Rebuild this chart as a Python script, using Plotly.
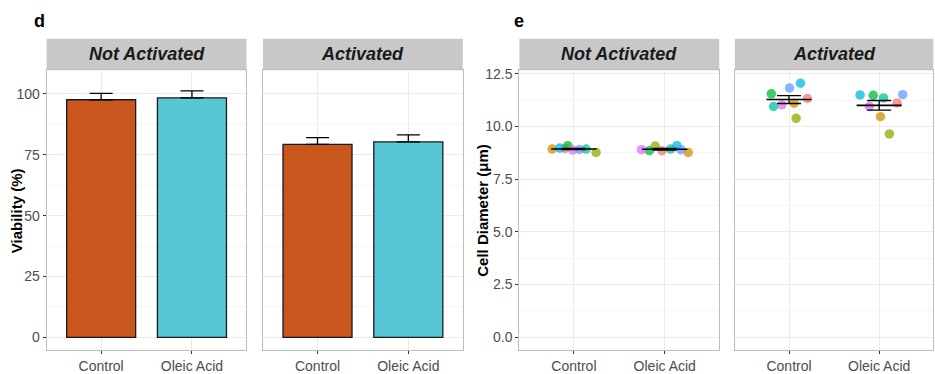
import numpy as np
import plotly.graph_objects as go

# ---------------- data ----------------
treatments = ["Control", "Oleic Acid"]
conditions = ["Not Activated", "Activated"]

# panel d: viability (%) mean and SEM
viab_not_act = [97.6, 98.4]
viab_not_act_se = [2.6, 2.8]
viab_act = [79.3, 80.3]
viab_act_se = [2.7, 2.9]
bar_colors = ["#C9561C", "#57C7D6"]

# panel e: cell diameter (um) per donor
donor_colors = ["#F8766D", "#D39200", "#93AA00", "#00BA38",
                "#00C19F", "#00B9E3", "#619CFF", "#DB72FB"]
diam_na_ctrl = [8.96, 8.93, 8.77, 9.09, 8.93, 8.98, 8.91, 8.88]
diam_na_oleic = [8.85, 8.77, 9.07, 8.85, 8.93, 9.09, 8.90, 8.90]
diam_act_ctrl = [11.33, 11.11, 10.39, 11.55, 10.95, 12.06, 11.83, 11.03]
diam_act_oleic = [11.12, 10.47, 9.65, 11.48, 11.36, 11.50, 11.51, 10.95]
# horizontal jitter offsets (category units)
jit_na_ctrl = [-0.097, -0.24, 0.244, -0.068, 0.134, -0.156, 0.06, -0.013]
jit_na_oleic = [-0.031, 0.259, -0.105, -0.17, 0.064, 0.134, 0.178, -0.256]
jit_act_ctrl = [0.204, 0.057, 0.079, -0.196, -0.171, 0.127, 0.006, -0.079]
jit_act_oleic = [0.198, 0.014, 0.113, -0.066, 0.048, -0.212, 0.261, -0.11]

# ---------------- layout helpers ----------------
W, H = 935, 374
FONT = "Liberation Sans, Arial, sans-serif"
def px(x):
    return x / W
def py(y):
    return 1 - y / H

panel_top, panel_bot = 67, 350
strip_top = 35
xdoms = [(46.7, 246.7), (263.3, 463.3), (520, 720), (735.7, 934.3)]

fig = go.Figure()

axis_common = dict(
    showline=True, linecolor="#BDBDBD", linewidth=1.2, mirror=True,
    showgrid=True, gridcolor="#EBEBEB", gridwidth=1.1, zeroline=False,
    ticks="outside", ticklen=3, tickwidth=1, tickcolor="#333333",
    tickfont=dict(family=FONT, size=14, color="#4D4D4D"),
)

layout_axes = {}
for k, (x0, x1) in enumerate(xdoms):
    n = k + 1
    xa = "xaxis" if n == 1 else f"xaxis{n}"
    ya = "yaxis" if n == 1 else f"yaxis{n}"
    layout_axes[xa] = dict(axis_common, domain=[px(x0), px(x1)],
                           anchor="y" if n == 1 else f"y{n}",
                           range=[-0.6, 1.6], tickvals=[0, 1], ticktext=treatments)
    if k < 2:
        yax = dict(axis_common, domain=[py(panel_bot), py(panel_top)],
                   anchor="x" if n == 1 else f"x{n}",
                   range=[-5.3, 109.7], tickvals=[0, 25, 50, 75, 100],
                   minor=dict(dtick=12.5, tick0=0, showgrid=True,
                              gridcolor="#F5F5F5", gridwidth=0.7))
    else:
        yax = dict(axis_common, domain=[py(panel_bot), py(panel_top)],
                   anchor=f"x{n}", range=[-0.62, 12.67],
                   tickvals=[0, 2.5, 5, 7.5, 10, 12.5], tickformat=".1f",
                   minor=dict(dtick=1.25, tick0=0, showgrid=True,
                              gridcolor="#F5F5F5", gridwidth=0.7))
    if k in (1, 3):
        yax["showticklabels"] = False
        yax["ticks"] = ""
    layout_axes[ya] = yax

# ---------------- panel d bars ----------------
for k, (vals, ses) in enumerate([(viab_not_act, viab_not_act_se), (viab_act, viab_act_se)]):
    n = k + 1
    fig.add_trace(go.Bar(
        x=list(range(len(treatments))), y=vals, width=0.76,
        marker=dict(color=bar_colors, line=dict(color="#1A1A1A", width=1.3)),
        error_y=dict(type="data", symmetric=False, array=ses,
                     arrayminus=[0] * len(ses), color="black",
                     thickness=1.3, width=11.5),
        xaxis="x" if n == 1 else f"x{n}", yaxis="y" if n == 1 else f"y{n}",
        showlegend=False, hoverinfo="skip"))

# ---------------- panel e points ----------------
groups = [
    (3, 0, diam_na_ctrl, jit_na_ctrl),
    (3, 1, diam_na_oleic, jit_na_oleic),
    (4, 0, diam_act_ctrl, jit_act_ctrl),
    (4, 1, diam_act_oleic, jit_act_oleic),
]
for n, ci, vals, jit in groups:
    fig.add_trace(go.Scatter(
        x=[ci + j for j in jit], y=vals, mode="markers",
        marker=dict(color=donor_colors, size=9.5, opacity=0.75, line=dict(width=0)),
        xaxis=f"x{n}", yaxis=f"y{n}", showlegend=False, hoverinfo="skip"))

for n, ci, vals, jit in groups:
    arr = np.array(vals)
    m = arr.mean()
    se = arr.std(ddof=1) / np.sqrt(len(arr))
    fig.add_trace(go.Scatter(
        x=[ci - 0.25, ci + 0.25], y=[m, m], mode="lines",
        line=dict(color="black", width=1.6),
        xaxis=f"x{n}", yaxis=f"y{n}", showlegend=False, hoverinfo="skip"))
    fig.add_trace(go.Scatter(
        x=[ci], y=[m], mode="markers", marker=dict(size=0.1, color="black"),
        error_y=dict(type="data", array=[se], color="black", thickness=1.3, width=12),
        xaxis=f"x{n}", yaxis=f"y{n}", showlegend=False, hoverinfo="skip"))

# ---------------- strips, titles ----------------
shapes = []
annotations = []
for k, (x0, x1) in enumerate(xdoms):
    shapes.append(dict(type="rect", xref="paper", yref="paper",
                       x0=px(x0), x1=px(x1), y0=py(panel_top), y1=py(strip_top),
                       fillcolor="#C8C8C8", line=dict(width=0), layer="below"))
    annotations.append(dict(
        xref="paper", yref="paper", x=px((x0 + x1) / 2), y=py((strip_top + panel_top) / 2),
        text=f"<b><i>{conditions[k % 2]}</i></b>", showarrow=False,
        font=dict(family=FONT, size=18, color="#1A1A1A"),
        xanchor="center", yanchor="middle"))

annotations += [
    dict(xref="paper", yref="paper", x=px(32), y=py(17), text="<b>d</b>",
         showarrow=False, font=dict(family=FONT, size=18, color="black"),
         xanchor="left", yanchor="middle"),
    dict(xref="paper", yref="paper", x=px(513), y=py(17), text="<b>e</b>",
         showarrow=False, font=dict(family=FONT, size=18, color="black"),
         xanchor="left", yanchor="middle"),
    dict(xref="paper", yref="paper", x=px(16), y=py((panel_top + panel_bot) / 2),
         text="<b>Viability (%)</b>", textangle=-90, showarrow=False,
         font=dict(family=FONT, size=15, color="black"),
         xanchor="center", yanchor="middle"),
    dict(xref="paper", yref="paper", x=px(483), y=py((panel_top + panel_bot) / 2),
         text="<b>Cell Diameter (μm)</b>", textangle=-90, showarrow=False,
         font=dict(family=FONT, size=15, color="black"),
         xanchor="center", yanchor="middle"),
]

fig.update_layout(
    width=W, height=H, margin=dict(l=0, r=0, t=0, b=0),
    paper_bgcolor="white", plot_bgcolor="white",
    shapes=shapes, annotations=annotations, showlegend=False,
    font=dict(family=FONT),
    **layout_axes)

fig.write_html("out.html")
